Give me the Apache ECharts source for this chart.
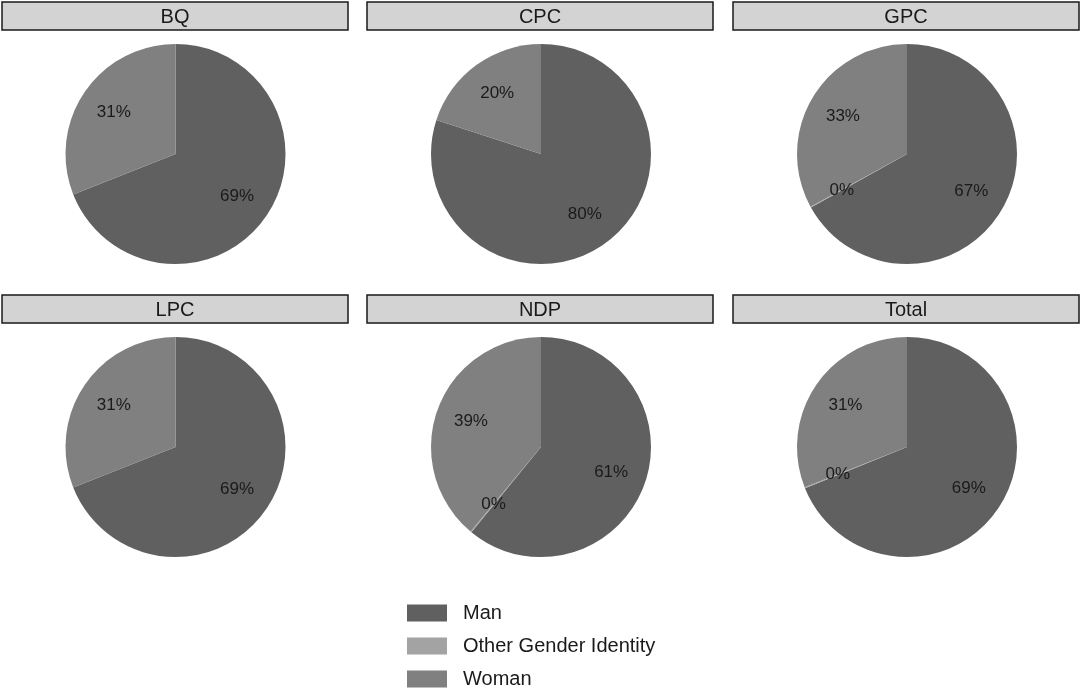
<!DOCTYPE html>
<html>
<head>
<meta charset="utf-8">
<script src="https://cdn.jsdelivr.net/npm/echarts@6/dist/echarts.min.js"></script>
<style>
  html, body { margin: 0; padding: 0; background: #fff; }
  #main { width: 1081px; height: 690px; }
</style>
</head>
<body>
<div id="main"></div>
<script>
// facets and their shares (percent) in order Man, Other Gender Identity, Woman
const parties = ['BQ', 'CPC', 'GPC', 'LPC', 'NDP', 'Total']
const genders = ['Man', 'Other Gender Identity', 'Woman']
const manShare = [69, 80, 67, 69, 61, 69]
const otherShare = [0, 0, 0.15, 0, 0.15, 0.15]
const womanShare = [31, 20, 33, 31, 39, 31]

const genderColor = ['#606060', '#a3a3a3', '#808080']

const chart = echarts.init(document.getElementById('main'))

// facet layout
const colX = [2, 367, 733]
const rowY = [2, 295]
const stripW = 346
const stripH = 28
const pieCx = [175.5, 541, 907]
const pieCy = [154, 447]
const R = 110

const series = []
const graphics = []

parties.forEach((party, i) => {
    const col = i % 3
    const row = Math.floor(i / 3)
    const data = [manShare[i], otherShare[i], womanShare[i]].map((v, k) => ({
        name: genders[k],
        value: v,
        itemStyle: {color: genderColor[k]}
    }))

    series.push({
        type: 'pie',
        name: party,
        center: [pieCx[col], pieCy[row]],
        radius: R,
        startAngle: 90,
        clockwise: true,
        animation: false,
        silent: true,
        label: {show: false},
        labelLine: {show: false},
        itemStyle: {borderWidth: 0},
        data: data
    })

    // invisible ring to place labels at ~0.65 of the radius
    series.push({
        type: 'pie',
        name: party + '-labels',
        center: [pieCx[col], pieCy[row]],
        radius: [R * 0.3, R],
        startAngle: 90,
        clockwise: true,
        animation: false,
        silent: true,
        legendHoverLink: false,
        itemStyle: {color: 'transparent', borderWidth: 0},
        label: {
            show: true,
            position: 'inside',
            color: '#1a1a1a',
            fontSize: 17,
            fontFamily: 'Liberation Sans, Arial, sans-serif',
            formatter: p => p.value === 0 ? '' : Math.round(p.value) + '%'
        },
        labelLine: {show: false},
        data: data.map(d => ({name: d.name, value: d.value, itemStyle: {color: 'transparent'}}))
    })

    graphics.push({
        type: 'rect',
        shape: {x: colX[col], y: rowY[row], width: stripW, height: stripH},
        style: {fill: '#d3d3d3', stroke: '#1a1a1a', lineWidth: 1.5}
    })
    graphics.push({
        type: 'text',
        x: colX[col] + stripW / 2,
        y: rowY[row] + stripH / 2 + 1,
        style: {
            text: party,
            fill: '#1a1a1a',
            fontSize: 20,
            fontFamily: 'Liberation Sans, Arial, sans-serif',
            textAlign: 'center',
            textVerticalAlign: 'middle'
        }
    })
})

const option = {
    backgroundColor: '#ffffff',
    animation: false,
    legend: {
        data: genders,
        orient: 'vertical',
        left: 407,
        top: 603,
        padding: 0,
        icon: 'rect',
        itemWidth: 40,
        itemHeight: 17,
        itemGap: 13,
        selectedMode: false,
        textStyle: {
            color: '#1a1a1a',
            fontSize: 20,
            fontFamily: 'Liberation Sans, Arial, sans-serif',
            padding: [0, 0, 0, 11]
        }
    },
    graphic: graphics,
    series: series
}

option && chart.setOption(option)
</script>
</body>
</html>
